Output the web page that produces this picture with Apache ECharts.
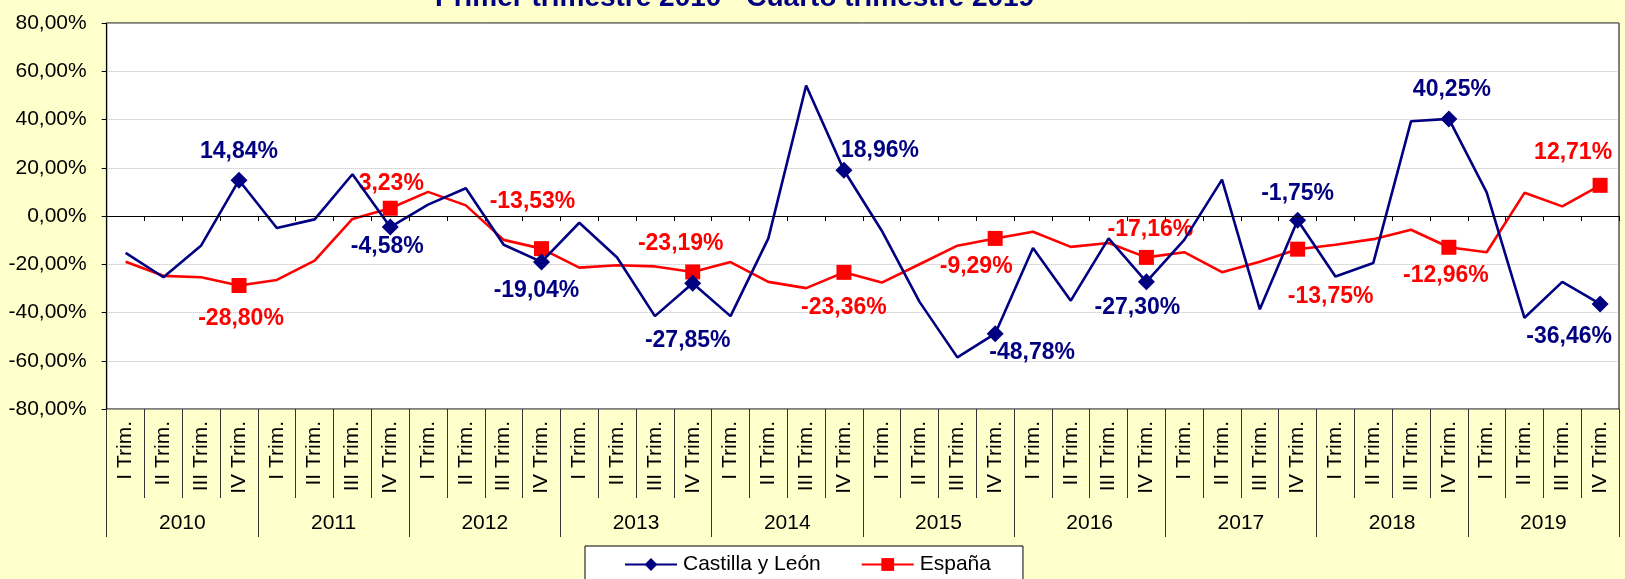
<!DOCTYPE html>
<html>
<head>
<meta charset="utf-8">
<script src="https://cdn.jsdelivr.net/npm/echarts@6/dist/echarts.min.js"></script>
<style>
html,body{margin:0;padding:0;background:#FFFFCC;}
#chart{width:1625px;height:579px;}
</style>
</head>
<body>
<div id="chart"></div>
<script>
var titleText = 'Primer trimestre 2010 - Cuarto trimestre 2019';
var years = ['2010','2011','2012','2013','2014','2015','2016','2017','2018','2019'];
var quarters = ['I Trim.','II Trim.','III Trim.','IV Trim.'];
var yTicks = [-80, -60, -40, -20, 0, 20, 40, 60, 80];
var seriesNames = ['Castilla y León', 'España'];

var castilla = [
  -15.3, -25.4, -12.2, 14.84,
  -5.0, -1.4, 17.3, -4.58,
  4.7, 11.5, -11.9, -19.04,
  -2.8, -17.2, -41.5, -27.85,
  -41.5, -9.3, 54.1, 18.96,
  -6.1, -35.6, -58.6, -48.78,
  -13.3, -35.1, -9.3, -27.30,
  -9.9, 15.1, -38.7, -1.75,
  -25.1, -19.5, 39.3, 40.25,
  9.8, -42.2, -27.3, -36.46
];
var espana = [
  -19.0, -24.8, -25.4, -28.80,
  -26.5, -18.5, -1.2, 3.23,
  10.0, 4.4, -9.9, -13.53,
  -21.4, -20.4, -20.9, -23.19,
  -19.1, -27.3, -29.9, -23.36,
  -27.6, -20.0, -12.3, -9.29,
  -6.5, -12.8, -11.2, -17.16,
  -15.0, -23.3, -19.0, -13.75,
  -11.9, -9.6, -5.7, -12.96,
  -15.0, 9.6, 4.0, 12.71
];

// label offsets (px) for the labelled IV Trim. points, one per year
var castillaLabelOffsets = [[0,-29],[-3,20],[-5,29],[-5,57],[36,-20],[37,19],[-9,26],[0,-27],[3,-29],[-31,33]];
var espanaLabelOffsets = [[2,33],[1,-25],[-9,-47],[-12,-28],[0,35],[-19,28],[4,-28],[33,47],[-3,28],[-27,-33]];

var categories = [];
years.forEach(function (y) { quarters.forEach(function (q) { categories.push(q); }); });

function fmt(v) { return v.toFixed(2).replace('.', ',') + '%'; }

var FONT = "'Liberation Sans', Arial, Helvetica, sans-serif";
var NAVY = '#000080';
var RED = '#FF0000';

function buildData(values, offsets, symbol, size, color) {
  return values.map(function (v, i) {
    if (i % 4 === 3) {
      var k = (i - 3) / 4;
      return {
        value: v,
        symbol: symbol,
        symbolSize: size,
        label: {
          show: true,
          position: 'inside',
          offset: offsets[k],
          formatter: function (p) { return fmt(p.value); },
          color: color,
          fontFamily: FONT,
          fontSize: 23,
          fontWeight: 'bold'
        }
      };
    }
    return { value: v, symbol: 'none' };
  });
}

var chart = echarts.init(document.getElementById('chart'), null, { renderer: 'canvas' });

chart.setOption({
  backgroundColor: '#FFFFCC',
  animation: false,
  textStyle: { fontFamily: FONT },
  title: {
    text: titleText,
    left: 435,
    top: -16,
    padding: 0,
    textStyle: { color: NAVY, fontSize: 28, fontWeight: 'bold', fontFamily: FONT }
  },
  legend: {
    left: 585,
    top: 546,
    orient: 'horizontal',
    padding: [8, 32, 20, 39],
    itemGap: 40,
    itemWidth: 52,
    itemHeight: 16,
    backgroundColor: '#FFFFFF',
    borderColor: '#000000',
    borderWidth: 1,
    borderRadius: 0,
    textStyle: { color: '#000', fontSize: 21, fontFamily: FONT, padding: [0, 0, 0, 1] },
    data: seriesNames
  },
  grid: {
    left: 106.7,
    right: 6,
    top: 23,
    bottom: 170,
    show: true,
    backgroundColor: '#FFFFFF',
    borderColor: '#000000',
    borderWidth: 1,
    containLabel: false
  },
  xAxis: [
    {
      type: 'category',
      data: categories,
      boundaryGap: true,
      axisLine: { show: true, onZero: true, lineStyle: { color: '#000', width: 1.2 } },
      axisTick: { show: true, interval: 0, length: 5, lineStyle: { color: '#000' } },
      axisLabel: { show: false },
      splitLine: { show: false },
      z: 5
    },
    {
      type: 'category',
      data: categories,
      position: 'bottom',
      boundaryGap: true,
      axisLine: { show: false, onZero: false },
      axisTick: { show: true, interval: 0, length: 89, lineStyle: { color: '#333', width: 1 } },
      axisLabel: {
        show: true, interval: 0, rotate: 90, margin: 12,
        color: '#000', fontSize: 21, fontFamily: FONT
      },
      splitLine: { show: false }
    },
    {
      type: 'category',
      data: years,
      position: 'bottom',
      boundaryGap: true,
      axisLine: { show: false, onZero: false },
      axisTick: { show: true, interval: 0, length: 128, lineStyle: { color: '#333', width: 1 } },
      axisLabel: {
        show: true, interval: 0, margin: 104,
        color: '#000', fontSize: 21, fontFamily: FONT
      },
      splitLine: { show: false }
    }
  ],
  yAxis: {
    type: 'value',
    min: yTicks[0],
    max: yTicks[yTicks.length - 1],
    interval: 20,
    axisLine: { show: true, lineStyle: { color: '#000', width: 1.2 } },
    axisTick: { show: true, length: 5, inside: false, lineStyle: { color: '#000' } },
    axisLabel: {
      margin: 20, color: '#000', fontSize: 21, fontFamily: FONT,
      formatter: function (v) { return fmt(v); }
    },
    splitLine: { show: true, lineStyle: { color: '#B8B8B8', type: 'dotted', width: 1 } }
  },
  series: [
    {
      name: seriesNames[0],
      type: 'line',
      xAxisIndex: 0,
      symbol: 'diamond',
      symbolSize: 17,
      showAllSymbol: true,
      lineStyle: { color: NAVY, width: 2.6 },
      itemStyle: { color: NAVY },
      data: buildData(castilla, castillaLabelOffsets, 'diamond', 17, NAVY),
      z: 3
    },
    {
      name: seriesNames[1],
      type: 'line',
      xAxisIndex: 0,
      symbol: 'rect',
      symbolSize: 15,
      showAllSymbol: true,
      lineStyle: { color: RED, width: 2.6 },
      itemStyle: { color: RED },
      data: buildData(espana, espanaLabelOffsets, 'rect', 15, RED),
      z: 2
    }
  ]
});
</script>
</body>
</html>
